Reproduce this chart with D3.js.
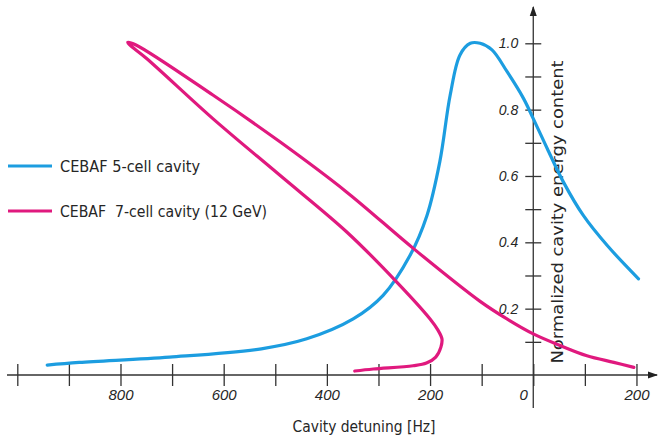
<!DOCTYPE html>
<html><head><meta charset="utf-8">
<script src="https://cdn.jsdelivr.net/npm/d3@7/dist/d3.min.js"></script>
<style>
body{margin:0;background:#fff;}
svg{display:block;}
text{font-family:"Liberation Sans Narrow","DejaVu Sans Condensed","Liberation Sans",sans-serif;fill:#262626;}
</style></head>
<body>
<svg id="c" width="658" height="442"></svg>
<script>
// Data (detuning in Hz, positive to the left; normalized energy content)
const seriesNames = ["CEBAF 5-cell cavity", "CEBAF  7-cell cavity (12 GeV)"];
const cell5Detuning = [942, 880, 705, 527, 439, 349, 291, 239, 206, 181, 161, 142, 122, 103, 80, 51, 19, 0, -27, -58, -97, -143, -204];
const cell5Energy   = [0.030, 0.038, 0.054, 0.079, 0.109, 0.169, 0.240, 0.360, 0.481, 0.644, 0.844, 0.965, 1.0, 1.0, 0.98, 0.915, 0.834, 0.773, 0.683, 0.583, 0.481, 0.391, 0.290];
const cell7Detuning = [346, 310, 233, 207, 189, 179, 177, 185, 200, 265, 362, 491, 621, 750, 782, 786, 770, 621, 491, 362, 232, 103, 51, 0, -52, -104, -156, -195];
const cell7Energy   = [0.012, 0.018, 0.028, 0.036, 0.054, 0.084, 0.109, 0.136, 0.169, 0.281, 0.432, 0.602, 0.773, 0.955, 0.995, 1.003, 0.995, 0.844, 0.703, 0.552, 0.381, 0.222, 0.169, 0.124, 0.089, 0.058, 0.038, 0.023];
const xTickValues = [1000, 900, 800, 700, 600, 500, 400, 300, 200, 100, 0, -100, -200];
const xLabelValues = [800, 600, 400, 200, 0, -200];
const yTickValues = [0.1, 0.2, 0.3, 0.4, 0.5, 0.6, 0.7, 0.8, 0.9, 1.0];
const yLabelValues = [0.2, 0.4, 0.6, 0.8, 1.0];
const colors = ["#1c9de0", "#e0197e"];

const svg = d3.select("#c");
const x = d3.scaleLinear().domain([1000, -240]).range([17.3, 657.1]);
const y = d3.scaleLinear().domain([0, 1]).range([375, 43.3]);
const axisColor = "#333";

// arrow marker
svg.append("defs").append("marker").attr("id","arr").attr("viewBox","0 0 10 10")
  .attr("refX",9).attr("refY",5).attr("markerWidth",8).attr("markerHeight",8)
  .attr("orient","auto-start-reverse")
  .append("path").attr("d","M0,1.5L10,5L0,8.5Z").attr("fill","#222");

// X axis
svg.append("line").attr("x1",7).attr("x2",657).attr("y1",y(0)).attr("y2",y(0))
  .attr("stroke",axisColor).attr("stroke-width",1.3).attr("marker-end","url(#arr)");
const xa = svg.append("g").attr("transform",`translate(0,${y(0)})`)
  .call(d3.axisBottom(x).tickValues(xTickValues).tickSizeOuter(0)
    .tickFormat(d => xLabelValues.includes(d) ? String(Math.abs(d)) : ""));
xa.select(".domain").remove();
xa.selectAll(".tick line").attr("y1",-11).attr("y2",11).attr("stroke",axisColor).attr("stroke-width",1.3);
xa.selectAll(".tick text").attr("y",20).attr("dy","0.35em").attr("font-size",15)
  .attr("font-style","italic").style("font-family","\"Liberation Sans Narrow\",sans-serif").attr("fill","#262626")
  .attr("dx", d => d === 0 ? -10 : 0);

// Y axis
svg.append("line").attr("x1",x(0)).attr("x2",x(0)).attr("y1",408).attr("y2",7)
  .attr("stroke",axisColor).attr("stroke-width",1.3).attr("marker-end","url(#arr)");
const ya = svg.append("g").attr("transform",`translate(${x(0)},0)`)
  .call(d3.axisLeft(y).tickValues(yTickValues).tickSizeOuter(0)
    .tickFormat(d => yLabelValues.some(v => Math.abs(v-d) < 1e-9) ? d3.format(".1f")(d) : ""));
ya.select(".domain").remove();
ya.selectAll(".tick line").attr("x1",-8).attr("x2",8).attr("stroke",axisColor).attr("stroke-width",1.3);
ya.selectAll(".tick text").attr("x",-15).attr("font-size",14).attr("font-style","italic")
  .style("font-family","\"Liberation Sans Narrow\",sans-serif").attr("fill","#262626");

// axis titles
svg.append("text").attr("x",364).attr("y",432).attr("text-anchor","middle")
  .attr("font-size",16).attr("textLength",143).attr("lengthAdjust","spacingAndGlyphs")
  .text("Cavity detuning [Hz]");
svg.append("text").attr("transform","translate(563,212) rotate(-90)").attr("text-anchor","middle")
  .attr("font-size",16).attr("textLength",303).attr("lengthAdjust","spacingAndGlyphs")
  .text("Normalized cavity energy content");

// curves
const line = d3.line().x(d => x(d[0])).y(d => y(d[1])).curve(d3.curveCatmullRom.alpha(0.5));
const s5 = cell5Detuning.map((d,i) => [d, cell5Energy[i]]);
const s7 = cell7Detuning.map((d,i) => [d, cell7Energy[i]]);
[s5, s7].forEach((s,i) => {
  svg.append("path").datum(s).attr("d", line).attr("fill","none")
    .attr("stroke", colors[i]).attr("stroke-width",3.2).attr("stroke-linejoin","round").attr("stroke-linecap","round");
});

// legend
const legY = [166, 211];
const legW = [140, 207];
seriesNames.forEach((n,i) => {
  svg.append("line").attr("x1",8).attr("x2",52).attr("y1",legY[i]).attr("y2",legY[i])
    .attr("stroke",colors[i]).attr("stroke-width",3);
  svg.append("text").attr("x",60).attr("y",legY[i]).attr("dy","0.35em").attr("font-size",16)
    .attr("textLength",legW[i]).attr("lengthAdjust","spacingAndGlyphs").attr("xml:space","preserve")
    .style("white-space","pre").text(n);
});
</script>
</body></html>
